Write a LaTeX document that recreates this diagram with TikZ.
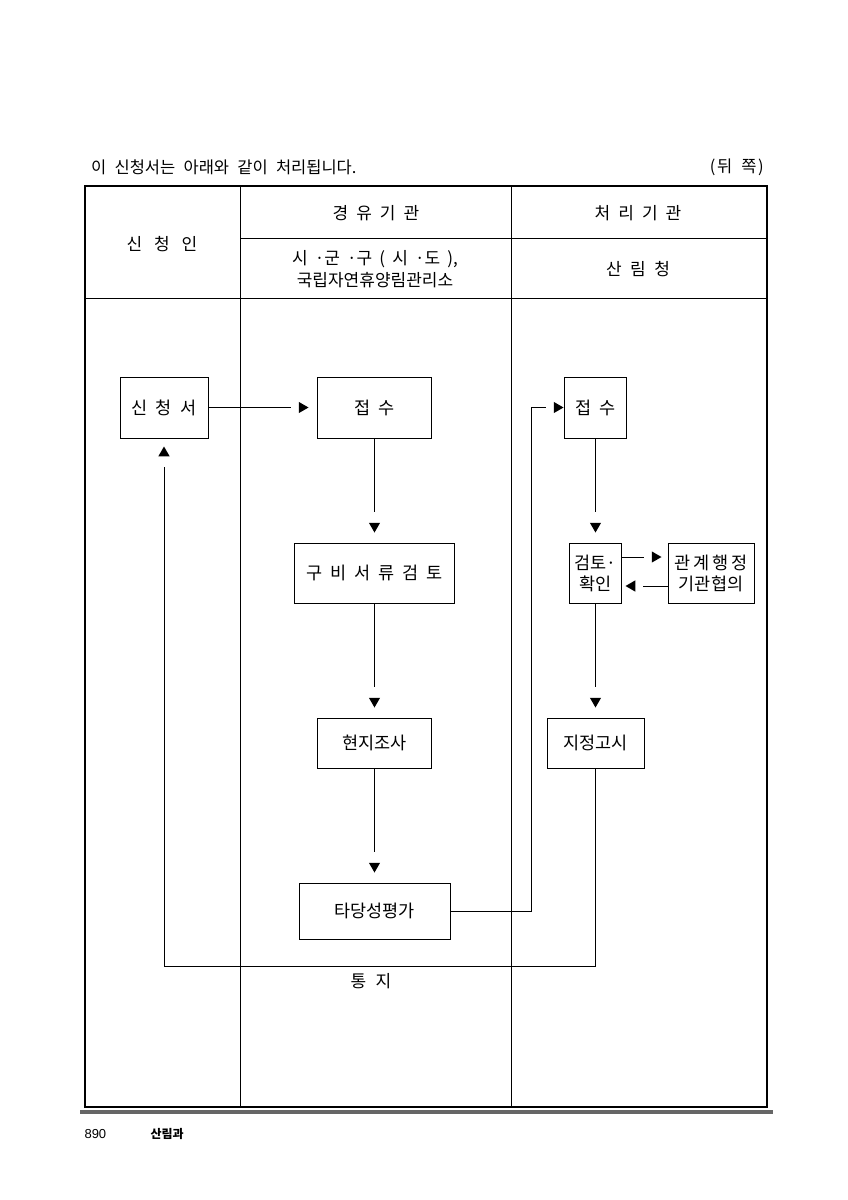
\documentclass[tikz,border=0pt]{standalone}
\usepackage{fontspec}
\setmainfont{Noto Sans CJK KR}
\newfontfamily\latinsans{Liberation Sans}
\usetikzlibrary{shapes.geometric}
\newcommand\gp[1][0.45em]{\hspace{#1}}
\tikzset{
  box/.style={draw, line width=0.8pt, fill=white, inner sep=0pt, align=center, font=\fontsize{17.5}{21}\selectfont},
  tri/.style={regular polygon, regular polygon sides=3, fill=black, inner sep=0pt, minimum size=13pt},
  conn/.style={line width=0.8pt},
  hdr/.style={font=\fontsize{17}{22}\selectfont, align=center},
  grid/.style={line width=0.7pt},
}
\begin{document}
\begin{tikzpicture}[x=1pt,y=-1pt]
\useasboundingbox (0,0) rectangle (848,1200);
% title
\node[anchor=west, inner sep=0pt, font=\fontsize{16.5}{20}\selectfont] (title) at (91,167) {이\gp[0.5em]신청서는\gp[0.5em]아래와\gp[0.5em]같이\gp[0.5em]처리됩니다.};
\node[anchor=east, inner sep=0pt, font=\fontsize{16.5}{20}\selectfont] (back) at (764,167) {(\gp[0.1em]뒤\gp[0.55em]쪽\gp[0.1em])};
% table
\draw[grid] (240,186) -- (240,1107);
\draw[grid] (511,186) -- (511,1107);
\draw[grid] (240,238) -- (767,238);
\draw[grid] (85,298) -- (767,298);
\draw[line width=2.4pt] (85,186) rectangle (767,1107);
% headers
\node[hdr] (h1) at (162,244) {신\gp[0.7em]청\gp[0.7em]인};
\node[hdr] (h2) at (376,213) {경\gp[0.47em]유\gp[0.47em]기\gp[0.47em]관};
\node[hdr] (h3) at (638,213) {처\gp[0.47em]리\gp[0.47em]기\gp[0.47em]관};
\node[hdr] (h4) at (375,269) {시\gp[0.42em]·군\gp[0.42em]·구\gp[0.42em](\gp[0.42em]시\gp[0.42em]·도\gp[0.42em]),\\국립자연휴양림관리소};
\node[hdr] (h5) at (638,269) {산\gp[0.5em]림\gp[0.5em]청};
% boxes
\node[box, minimum width=88pt, minimum height=61pt] (apply) at (164,407.5) {신\gp[0.47em]청\gp[0.47em]서};
\node[box, minimum width=114pt, minimum height=61pt] (recv1) at (374.5,407.5) {접\gp[0.47em]수};
\node[box, minimum width=160pt, minimum height=60pt] (check) at (374.5,573) {구\gp 비\gp 서\gp 류\gp 검\gp 토};
\node[box, minimum width=114pt, minimum height=50pt] (survey) at (374.5,743) {현지조사};
\node[box, minimum width=151pt, minimum height=56pt] (eval) at (374.5,911) {타당성평가};
\node[box, minimum width=62pt, minimum height=61pt] (recv2) at (595.5,407.5) {접\gp[0.47em]수};
\node[box, minimum width=52pt, minimum height=60pt] (review) at (595.5,573) {검토·\\확인};
\node[box, minimum width=86pt, minimum height=60pt] (consult) at (711,573) {관\gp[0.15em]계\gp[0.15em]행\gp[0.15em]정\\기관협의};
\node[box, minimum width=97pt, minimum height=50pt] (notice) at (595.5,743) {지정고시};
% triangles
\node[tri, shape border rotate=-90] (t1) at (302,407.5) {};
\node[tri, shape border rotate=180] (t2) at (374.5,526) {};
\node[tri, shape border rotate=180] (t3) at (374.5,701) {};
\node[tri, shape border rotate=180] (t4) at (374.5,866) {};
\node[tri, shape border rotate=-90] (t5) at (557,407.5) {};
\node[tri, shape border rotate=180] (t6) at (595.5,526) {};
\node[tri, shape border rotate=-90] (t7) at (655,557) {};
\node[tri, shape border rotate=90] (t8) at (632,586) {};
\node[tri, shape border rotate=180] (t9) at (595.5,701) {};
\node[tri] (t10) at (164,453) {};
\coordinate (k1) at (531,911);
\coordinate (k2) at (164,966);
% connectors
\draw[conn, shorten >=8pt] (apply.east) -- (t1);
\draw[conn, shorten >=11pt] (recv1.south) -- (t2);
\draw[conn, shorten >=11pt] (check.south) -- (t3);
\draw[conn, shorten >=11pt] (survey.south) -- (t4);
\draw[conn, shorten >=8pt] (eval.east) -- (k1) |- (t5);
\draw[conn, shorten >=11pt] (recv2.south) -- (t6);
\draw[conn, shorten >=8pt] (review.east |- t7) -- (t7);
\draw[conn, shorten >=8pt] (consult.west |- t8) -- (t8);
\draw[conn, shorten >=11pt] (review.south) -- (t9);
\draw[conn, shorten >=11pt] (notice.south) |- (k2) -- (t10);
\node[font=\fontsize{17}{20}\selectfont] (notify) at (371,981) {통\gp[0.55em]지};
% footer
\draw[line width=4pt, black!60] (80,1112) -- (773,1112);
\node[anchor=west, font=\latinsans\fontsize{13}{15}\selectfont] (page) at (81,1134) {890};
\node[anchor=west, font=\fontsize{12}{15}\selectfont\bfseries] (dept) at (147,1134) {산림과};
\end{tikzpicture}
\end{document}
